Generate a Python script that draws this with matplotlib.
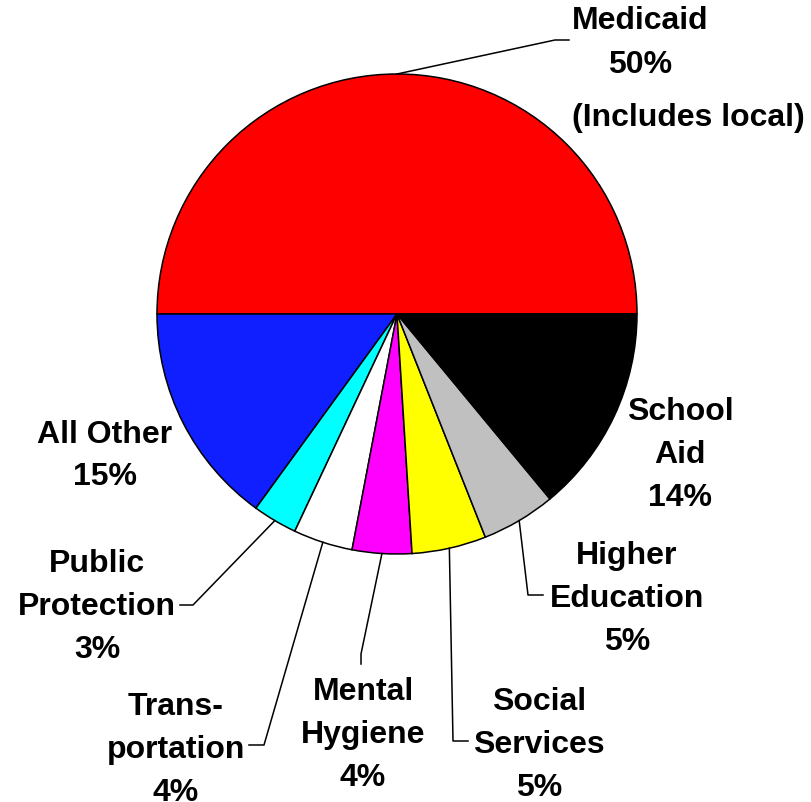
import numpy as np
import matplotlib.pyplot as plt

plt.rcParams['font.family'] = ['Liberation Sans', 'DejaVu Sans']

# spending shares, drawn counter-clockwise from 3 o'clock
categories = ['Medicaid', 'All Other', 'Public Protection', 'Transportation',
              'Mental Hygiene', 'Social Services', 'Higher Education', 'School Aid']
shares = [50, 15, 3, 4, 4, 5, 5, 14]
labels = ['Medicaid\n50%', 'All Other\n15%', 'Public\nProtection\n3%',
          'Trans-\nportation\n4%', 'Mental\nHygiene\n4%', 'Social\nServices\n5%',
          'Higher\nEducation\n5%', 'School\nAid\n14%']
colors = ['#ff0000', '#0f1fff', '#00ffff', '#ffffff',
          '#ff00ff', '#ffff00', '#c0c0c0', '#000000']

W, H = 811, 803
fig = plt.figure(figsize=(W / 100, H / 100), dpi=100)
ax = fig.add_axes([0, 0, 1, 1])

cx, cy, R = 397, 315, 240
# pie in pixel space (y axis inverted, so flip the direction)
wedges, _ = ax.pie(shares, colors=colors, startangle=0, counterclock=False,
                   center=(cx, cy), radius=R, frame=True,
                   wedgeprops=dict(edgecolor='black', linewidth=1.1))
ax.set_xlim(0, W)
ax.set_ylim(H, 0)
ax.set_aspect('equal')
ax.axis('off')

# label position and leader elbow for each slice
label_xy = {
    'Medicaid': (640, 43),
    'All Other': (105, 456),
    'Public Protection': (97, 607),
    'Transportation': (176, 750),
    'Mental Hygiene': (363, 735),
    'Social Services': (539, 745),
    'Higher Education': (627, 599),
    'School Aid': (680, 455),
}
elbows = {
    'Medicaid': [(555, 41), (569, 41)],
    'Public Protection': [(193, 606), (180, 606)],
    'Transportation': [(264, 746), (249, 746)],
    'Mental Hygiene': [(361, 655), (361, 665)],
    'Social Services': [(453, 742), (468, 742)],
    'Higher Education': [(528, 596), (543, 596)],
}

cum = np.cumsum([0] + shares)
for i, name in enumerate(categories):
    mid = np.deg2rad((cum[i] + cum[i + 1]) / 2 * 3.6)
    if name in elbows:
        px = cx + R * np.cos(mid)
        py = cy - R * np.sin(mid)
        pts = [(px, py)] + elbows[name]
        ax.plot([p[0] for p in pts], [p[1] for p in pts], color='black', lw=1.1)
    x, y = label_xy[name]
    ls = 1.65 if name == 'Medicaid' else 1.55
    ax.text(x, y, labels[i], ha='center', va='center', fontsize=23,
            fontweight='bold', linespacing=ls)

ax.text(688, 118, '(Includes local)', ha='center', va='center', fontsize=23,
        fontweight='bold')

fig.savefig('out.png', dpi=100)
